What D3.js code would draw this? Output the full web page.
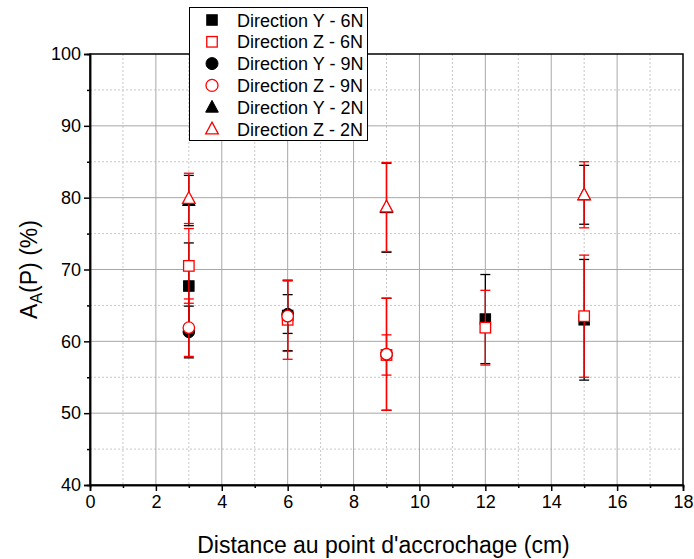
<!DOCTYPE html>
<html><head><meta charset="utf-8">
<script src="https://cdn.jsdelivr.net/npm/d3@7"></script>
<style>html,body{margin:0;padding:0;background:#fff;}svg{display:block;font-family:"Liberation Sans",Arial,sans-serif;}</style>
</head><body>
<svg id="c" width="694" height="559"></svg>
<script>
// ---- data ----
const seriesNames = ["Direction Y - 6N","Direction Z - 6N","Direction Y - 9N","Direction Z - 9N","Direction Y - 2N","Direction Z - 2N"];
const xY6 = [3,6,12,15];    const vY6 = [67.7,63.6,63.1,63.0];      const eY6 = [6.0,4.9,6.2,8.4];
const xZ6 = [3,6,9,12,15];  const vZ6 = [70.5,63.0,58.1,61.9,63.5]; const eZ6 = [5.2,5.5,2.8,5.2,8.5];
const xY9 = [3,6,9];        const vY9 = [61.3,63.8,58.2];           const eY9 = [3.6,2.7,7.8];
const xZ9 = [3,6,9];        const vZ9 = [61.9,63.5,58.2];           const eZ9 = [4.0,4.9,7.8];
const xY2 = [3,9,15];       const vY2 = [79.6,78.6,80.4];           const eY2 = [3.5,6.2,4.1];
const xZ2 = [3,9,15];       const vZ2 = [79.9,78.7,80.4];           const eZ2 = [3.5,6.2,4.6];
const xTicks = [0,2,4,6,8,10,12,14,16,18];
const yTicks = [40,50,60,70,80,90,100];

const series = [
  {name:seriesNames[0], x:xY6, v:vY6, e:eY6, color:"#000", shape:"square", filled:true},
  {name:seriesNames[1], x:xZ6, v:vZ6, e:eZ6, color:"#ff0000", shape:"square", filled:false},
  {name:seriesNames[2], x:xY9, v:vY9, e:eY9, color:"#000", shape:"circle", filled:true},
  {name:seriesNames[3], x:xZ9, v:vZ9, e:eZ9, color:"#ff0000", shape:"circle", filled:false},
  {name:seriesNames[4], x:xY2, v:vY2, e:eY2, color:"#000", shape:"triangle", filled:true},
  {name:seriesNames[5], x:xZ2, v:vZ2, e:eZ2, color:"#ff0000", shape:"triangle", filled:false}
];

const FONT = "Liberation Sans, Arial, sans-serif";
const svg = d3.select("#c");
const L=90, R=683, T=54, B=485;
const x = d3.scaleLinear().domain([0,18]).range([L,R]);
const y = d3.scaleLinear().domain([40,100]).range([B,T]);

// grid
const g = svg.append("g");
d3.range(1,18,2).forEach(v=>g.append("line").attr("x1",x(v)).attr("x2",x(v)).attr("y1",T).attr("y2",B).attr("stroke","#c8c8c8").attr("stroke-dasharray","2,2"));
d3.range(45,100,10).forEach(v=>g.append("line").attr("x1",L).attr("x2",R).attr("y1",y(v)).attr("y2",y(v)).attr("stroke","#c8c8c8").attr("stroke-dasharray","2,2"));
xTicks.slice(1,-1).forEach(v=>g.append("line").attr("x1",x(v)).attr("x2",x(v)).attr("y1",T).attr("y2",B).attr("stroke","#a8a8a8"));
yTicks.slice(1,-1).forEach(v=>g.append("line").attr("x1",L).attr("x2",R).attr("y1",y(v)).attr("y2",y(v)).attr("stroke","#a8a8a8"));

// frame
svg.append("rect").attr("x",L).attr("y",T).attr("width",R-L).attr("height",B-T).attr("fill","none").attr("stroke","#000").attr("stroke-width",1.5);

// axes
const xAxis = svg.append("g").attr("transform",`translate(0,${B})`)
  .call(d3.axisBottom(x).tickValues(xTicks).tickSize(6).tickPadding(4).tickFormat(d3.format("d")));
const xMinor = svg.append("g").attr("transform",`translate(0,${B})`)
  .call(d3.axisBottom(x).tickValues(d3.range(1,18,2)).tickSize(3).tickFormat(""));
const yAxis = svg.append("g").attr("transform",`translate(${L},0)`)
  .call(d3.axisLeft(y).tickValues(yTicks).tickSize(6).tickPadding(3).tickFormat(d3.format("d")));
const yMinor = svg.append("g").attr("transform",`translate(${L},0)`)
  .call(d3.axisLeft(y).tickValues(d3.range(45,100,10)).tickSize(3).tickFormat(""));
[xAxis,xMinor,yAxis,yMinor].forEach(a=>{a.select(".domain").attr("stroke","#000").attr("stroke-width",1.5);a.selectAll(".tick line").attr("stroke","#000").attr("stroke-width",1.5);});
xAxis.selectAll("text").attr("font-size",18).attr("fill","#000").attr("font-family",FONT);
yAxis.selectAll("text").attr("font-size",18).attr("fill","#000").attr("font-family",FONT);

// axis titles
svg.append("text").attr("x",(L+R)/2-3).attr("y",553).attr("text-anchor","middle").attr("font-size",23).attr("font-family",FONT).text("Distance au point d'accrochage (cm)");
const yl = svg.append("text").attr("transform",`translate(37,${(T+B)/2}) rotate(-90)`).attr("text-anchor","middle").attr("font-size",23).attr("font-family",FONT);
yl.append("tspan").text("A");
yl.append("tspan").attr("font-size",16).attr("dy",5).text("A");
yl.append("tspan").attr("dy",-5).text("(P) (%)");

// markers
function marker(sel, shape, cx, cy, color, filled, s){
  let el;
  if(shape==="square") el = sel.append("rect").attr("x",cx-s/2).attr("y",cy-s/2).attr("width",s).attr("height",s);
  else if(shape==="circle") el = sel.append("circle").attr("cx",cx).attr("cy",cy).attr("r",s/2+0.5);
  else { const h=s*1.05, w=s*1.2; el = sel.append("path").attr("d",`M${cx},${cy-h*0.62}L${cx+w/2},${cy+h*0.45}L${cx-w/2},${cy+h*0.45}Z`); }
  el.attr("fill",filled?color:"#fff").attr("stroke",color).attr("stroke-width",filled?1:1.3);
}

const pg = svg.append("g");
series.forEach(s=>{
  const gg = pg.append("g");
  s.x.forEach((xv,i)=>{
    const cx = x(xv), v=s.v[i], e=s.e[i];
    gg.append("line").attr("x1",cx).attr("x2",cx).attr("y1",y(v+e)).attr("y2",y(v-e)).attr("stroke",s.color).attr("stroke-width",1.3);
    [v+e,v-e].forEach(t=>gg.append("line").attr("x1",cx-5).attr("x2",cx+5).attr("y1",y(t)).attr("y2",y(t)).attr("stroke",s.color).attr("stroke-width",1.3));
    marker(gg, s.shape, cx, y(v), s.color, s.filled, 10.5);
  });
});

// legend
const lg = svg.append("g");
lg.append("rect").attr("x",189.5).attr("y",7.5).attr("width",178).attr("height",133).attr("fill","#fff").attr("stroke","#000").attr("stroke-width",1);
series.forEach((s,i)=>{
  const cy = 20 + i*21.8;
  marker(lg, s.shape, 212, cy, s.color, s.filled, s.shape==="circle"?11:10.5);
  lg.append("text").attr("x",237).attr("y",cy+6.5).attr("font-size",18).attr("font-family",FONT).attr("fill","#000").text(s.name);
});
</script>
</body></html>
